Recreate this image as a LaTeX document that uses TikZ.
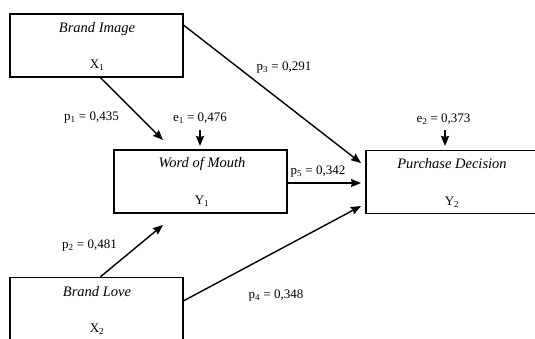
\documentclass[tikz,border=0pt]{standalone}
\usepackage{fontspec}
\setmainfont{Liberation Serif}
\usetikzlibrary{arrows.meta,positioning}
\tikzstyle{var}=[rectangle,draw=black,line width=1.5pt,
  minimum width=173pt,minimum height=63pt,inner sep=0pt]
\tikzstyle{txt}=[inner sep=0pt,font=\fontsize{13}{15}\selectfont]
\tikzstyle{vtitle}=[inner sep=0pt,font=\fontsize{14.5}{16}\selectfont\itshape]
\tikzstyle{arr}=[-{Stealth[length=10pt,width=8pt,inset=1pt]},line width=1.4pt]

\begin{document}
\begin{tikzpicture}[x=1pt,y=-1pt]
    \useasboundingbox (0,0) rectangle (535,338);
    \clip (0,0) rectangle (535,338);
    % variables
    \node [style=var] (bi) at (96.5, 45.5) {};
    \node [style=var] (wom) at (200.5, 181.5) {};
    \node [style=var, minimum width=172pt] (pd) at (452, 182) {};
    \node [style=var] (bl) at (96.5, 309) {};
    \node [style=vtitle] (bi1) at (97, 29.5) {Brand Image};
    \node [style=txt] (bi2) at (97, 65) {X\textsubscript{1}};
    \node [style=vtitle] (wom1) at (202, 164) {Word of Mouth};
    \node [style=txt] (wom2) at (202, 201) {Y\textsubscript{1}};
    \node [style=vtitle] (pd1) at (452, 164) {Purchase Decision};
    \node [style=txt] (pd2) at (452, 202) {Y\textsubscript{2}};
    \node [style=vtitle] (bl1) at (97, 292) {Brand Love};
    \node [style=txt] (bl2) at (97, 329) {X\textsubscript{2}};
    % coefficients
    \node [style=txt] (p1) at (91.5, 118) {p\textsubscript{1} = 0,435};
    \node [style=txt] (p2) at (89.5, 246) {p\textsubscript{2} = 0,481};
    \node [style=txt] (p3) at (284, 68) {p\textsubscript{3} = 0,291};
    \node [style=txt] (p4) at (276, 296) {p\textsubscript{4} = 0,348};
    \node [style=txt] (p5) at (318, 172) {p\textsubscript{5} = 0,342};
    \node [style=txt] (e1) at (200, 118) {e\textsubscript{1} = 0,476};
    \node [style=txt] (e2) at (443.5, 119) {e\textsubscript{2} = 0,373};
    \coordinate (t1) at (163, 140);
    \coordinate (t2) at (163, 225);
    \coordinate (t3) at (361, 163);
    \coordinate (t4) at (361, 206);
    \coordinate (t5) at (200, 146);
    \coordinate (t6) at (445, 146);
    \coordinate (t7) at (361, 183);
    % paths
    \draw [style=arr] ([xshift=4pt]bi.south) to (t1);
    \draw [style=arr] ([yshift=-12pt]bi.north east) to (t3);
    \draw [style=arr] ([xshift=4pt]bl.north) to (t2);
    \draw [style=arr] ([yshift=-24pt]bl.north east) to (t4);
    \draw [style=arr] (wom.east |- t7) to (t7);
    \draw [style=arr] ([yshift=-6pt]e1.south -| t5) to (t5);
    \draw [style=arr] ([yshift=-5pt]e2.south -| t6) to (t6);
\end{tikzpicture}
\end{document}
